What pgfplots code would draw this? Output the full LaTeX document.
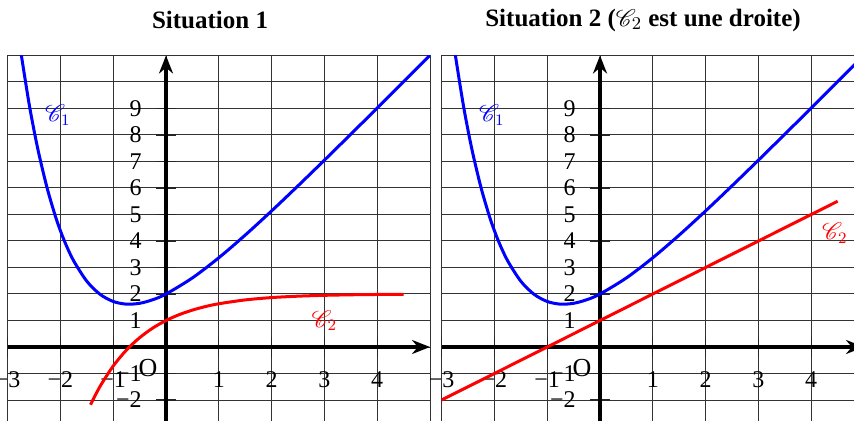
\documentclass[border=0pt]{standalone}
\usepackage{mathrsfs}
\usepackage{fontspec}
\setmainfont{Liberation Serif}
\usepackage{pgfplots}
\pgfplotsset{compat=1.18}
\usetikzlibrary{arrows.meta}

% f(x) = 2x+1+e^{-x}
\pgfplotstableread{
x y
-2.80 11.845
-2.75 11.143
-2.60 9.264
-2.50 8.182
-2.40 7.223
-2.25 5.988
-2.10 4.966
-2.00 4.389
-1.90 3.886
-1.75 3.255
-1.50 2.482
-1.25 1.990
-1.00 1.718
-0.75 1.617
-0.50 1.649
-0.25 1.784
0.00 2.000
0.50 2.607
1.00 3.368
1.50 4.223
2.00 5.135
2.50 6.082
3.00 7.050
3.50 8.030
4.00 9.018
4.50 10.011
5.00 11.007
}\courbeA

\pgfplotstableread{
x y
-1.43 -2.179
-1.25 -1.490
-1.00 -0.718
-0.75 -0.117
-0.50 0.351
-0.25 0.716
0.00 1.000
0.25 1.221
0.50 1.393
0.75 1.528
1.00 1.632
1.50 1.777
2.00 1.865
2.50 1.918
3.00 1.950
3.50 1.970
4.00 1.982
4.50 1.989
}\courbeB

\pgfplotsset{
  repere/.style={
    x=26.4pt, y=13.25pt,
    xmin=-3, xmax=5, ymin=-3, ymax=11,
    axis lines=middle,
    axis line style={line width=1.8pt, -{Stealth[length=9pt,width=7pt]}},
    xtick={-3,-2,-1,1,2,3,4},
    xticklabels={−3,−2,−1,1,2,3,4},
    ytick={-2,-1,1,2,3,4,5,6,7,8,9},
    yticklabels={−2,−1,1,2,3,4,5,6,7,8,9},
    minor xtick={-3,...,5},
    minor ytick={-3,...,11},
    grid=both,
    major grid style={black!80, line width=0.5pt},
    minor grid style={black!80, line width=0.5pt},
    major tick length=10pt, minor tick length=0pt,
    tick align=center,
    major tick style={black!85, line width=0.6pt},
    tick label style={font=\fontsize{12}{12}\selectfont},
    xticklabel style={anchor=center, inner sep=0pt, yshift=-11.5pt},
    yticklabel style={anchor=east, inner sep=0pt, xshift=-7pt},
    anchor=origin,
    clip=true,
  }
}

\begin{document}
\begin{tikzpicture}[every node/.style={font=\fontsize{12}{12}\selectfont}]
\useasboundingbox (0,0) rectangle (427pt,-210.5pt);
\clip (0,0) rectangle (427pt,-210.5pt);

\node[font=\fontsize{12.5}{14}\selectfont\bfseries] at (105pt,-10pt) {Situation 1};
\node[font=\fontsize{12.5}{14}\selectfont\bfseries] at (321.5pt,-10pt) {Situation 2 (\(\mathscr{C}_2\) est une droite)};

\begin{axis}[repere, at={(83pt,-173.5pt)}]
  \addplot[blue, line width=1.5pt, smooth] table {\courbeA};
  \addplot[red, line width=1.5pt, smooth] table {\courbeB};
  \node[blue] at (axis cs:-2.05,8.75) {\(\mathscr{C}_1\)};
  \node[red] at (axis cs:3.0,1.0) {\(\mathscr{C}_2\)};
  \node[font=\fontsize{13}{13}\selectfont] at (axis cs:-0.34,-0.79) {O};
\end{axis}

\begin{axis}[repere, at={(300pt,-173.5pt)}]
  \addplot[blue, line width=1.5pt, smooth] table {\courbeA};
  \addplot[red, line width=1.5pt] coordinates {(-3,-2) (4.5,5.5)};
  \node[blue] at (axis cs:-2.05,8.75) {\(\mathscr{C}_1\)};
  \node[red] at (axis cs:4.45,4.3) {\(\mathscr{C}_2\)};
  \node[font=\fontsize{13}{13}\selectfont] at (axis cs:-0.34,-0.79) {O};
\end{axis}
\end{tikzpicture}
\end{document}
